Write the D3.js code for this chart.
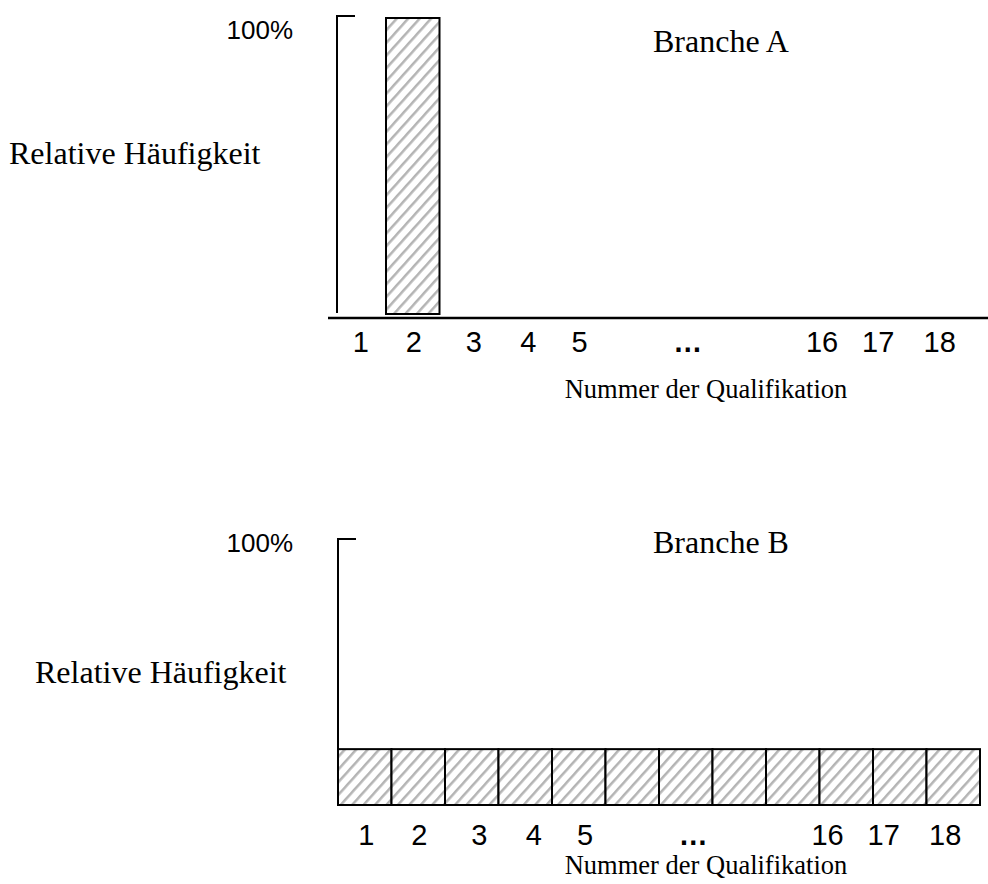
<!DOCTYPE html>
<html>
<head>
<meta charset="utf-8">
<script src="https://cdn.jsdelivr.net/npm/d3@7"></script>
<style>
  html, body { margin: 0; padding: 0; background: #fff; }
  svg { display: block; }
</style>
</head>
<body>
<div id="chart"></div>
<script>
// axis tick labels (same for both panels) and where they sit, in bar-slot units
var tickLabels = ["1", "2", "3", "4", "5", "\u2026", "16", "17", "18"];
var tickSlots  = [0.53, 1.52, 2.64, 3.66, 4.62, 6.64, 9.15, 10.2, 11.35];

// relative frequency (%) per bar slot, 12 slots drawn
var shareA = [0, 100, 0, 0, 0, 0, 0, 0, 0, 0, 0, 0];
var shareB = [21, 21, 21, 21, 21, 21, 21, 21, 21, 21, 21, 21];

var panels = [
  {name: "Branche A", data: shareA, x0: 332.5, x1: 974.5, yBase: 314, yTop: 18,
   axisX: 337, axisTop: 16, baseLine: 318, tickY: 352, titleY: 52, yLabY: 164, yLabX: 9, xLabY: 398, pctY: 39},
  {name: "Branche B", data: shareB, x0: 338, x1: 980, yBase: 805, yTop: 539,
   axisX: 338, axisTop: 539, baseLine: null, tickY: 845, titleY: 553, yLabY: 683, yLabX: 35, xLabY: 874, pctY: 552}
];

var svg = d3.select("#chart").append("svg")
    .attr("width", 988)
    .attr("height", 884);

var defs = svg.append("defs");
var pat = defs.append("pattern")
    .attr("id", "hatch")
    .attr("patternUnits", "userSpaceOnUse")
    .attr("width", 8.5)
    .attr("height", 8.5)
    .attr("patternTransform", "rotate(42)");
pat.append("rect").attr("width", 8.5).attr("height", 8.5).attr("fill", "#fff");
pat.append("line")
    .attr("x1", 0).attr("y1", 0).attr("x2", 0).attr("y2", 8.5)
    .attr("stroke", "#b4b4b4")
    .attr("stroke-width", 5);

panels.forEach(function(p) {
    var x = d3.scaleLinear().domain([0, 12]).range([p.x0, p.x1]);
    var y = d3.scaleLinear().domain([0, 100]).range([p.yBase, p.yTop]);
    var g = svg.append("g");

    // bars
    g.selectAll("rect.bar")
        .data(p.data.map(function(v, i) { return {i: i, v: v}; }).filter(function(d) { return d.v > 0; }))
        .enter().append("rect")
        .attr("class", "bar")
        .attr("x", function(d) { return x(d.i); })
        .attr("y", function(d) { return y(d.v); })
        .attr("width", function(d) { return x(d.i + 1) - x(d.i); })
        .attr("height", function(d) { return y(0) - y(d.v); })
        .attr("fill", "url(#hatch)")
        .attr("stroke", "#000")
        .attr("stroke-width", 2);

    // y axis: plain line with short stub at the top
    g.append("path")
        .attr("d", "M" + (p.axisX + 18) + "," + p.axisTop + "H" + p.axisX + "V" + (p.yBase - 1))
        .attr("fill", "none")
        .attr("stroke", "#000")
        .attr("stroke-width", 2);

    if (p.baseLine !== null) {
        g.append("line")
            .attr("x1", 328).attr("x2", 988)
            .attr("y1", p.baseLine).attr("y2", p.baseLine)
            .attr("stroke", "#000")
            .attr("stroke-width", 2.5);
    }

    // tick labels
    g.selectAll("text.tick")
        .data(tickLabels)
        .enter().append("text")
        .attr("class", "tick")
        .attr("x", function(d, i) { return x(tickSlots[i]); })
        .attr("y", p.tickY)
        .attr("text-anchor", "middle")
        .style("font-family", "Arial, 'Liberation Sans', sans-serif")
        .style("font-size", "29px")
        .style("font-weight", function(d) { return d === "\u2026" ? "bold" : "normal"; })
        .text(function(d) { return d; });

    g.append("text")
        .attr("x", 293).attr("y", p.pctY)
        .attr("text-anchor", "end")
        .style("font-family", "Arial, 'Liberation Sans', sans-serif")
        .style("font-size", "26px")
        .text("100%");

    g.append("text")
        .attr("x", p.yLabX).attr("y", p.yLabY)
        .style("font-family", "'Times New Roman', 'Liberation Serif', serif")
        .style("font-size", "32px")
        .text("Relative H\u00e4ufigkeit");

    g.append("text")
        .attr("x", 653).attr("y", p.titleY)
        .style("font-family", "'Times New Roman', 'Liberation Serif', serif")
        .style("font-size", "32px")
        .text(p.name);

    g.append("text")
        .attr("x", 706).attr("y", p.xLabY)
        .attr("text-anchor", "middle")
        .style("font-family", "'Times New Roman', 'Liberation Serif', serif")
        .style("font-size", "26.5px")
        .text("Nummer der Qualifikation");
});
</script>
</body>
</html>
